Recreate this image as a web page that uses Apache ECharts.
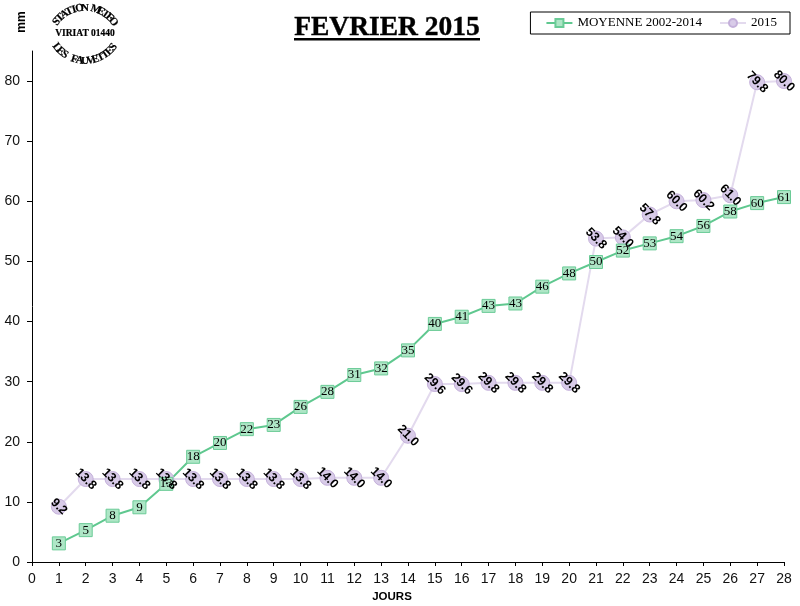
<!DOCTYPE html>
<html><head><meta charset="utf-8">
<style>html,body{margin:0;padding:0;background:#fff}#c{width:800px;height:606px}</style>
<script src="https://cdn.jsdelivr.net/npm/echarts@6/dist/echarts.min.js"></script>
</head><body><div id="c"></div>
<script>
const days = [1,2,3,4,5,6,7,8,9,10,11,12,13,14,15,16,17,18,19,20,21,22,23,24,25,26,27,28];
const moyenne = [3.1,5.3,7.7,9.1,13,17.5,19.8,22.1,22.8,25.8,28.3,31.1,32.2,35.2,39.6,40.8,42.6,43,45.8,48,49.9,51.8,53,54.2,55.9,58.3,59.7,60.7];
const annee2015 = [9.2,13.8,13.8,13.8,13.8,13.8,13.8,13.8,13.8,13.8,14.0,14.0,14.0,21.0,29.6,29.6,29.8,29.8,29.8,29.8,53.8,54.0,57.8,60.0,60.2,61.0,79.8,80.0];
const yTicks = [0,10,20,30,40,50,60,70,80];
const titleText = 'FEVRIER 2015';
const legendNames = ['MOYENNE 2002-2014','2015'];
const logoTop = 'STATION METEO', logoMid = 'VIRIAT 01440', logoBottom = 'LES FAUVETTES';

function arcText(str, cx, cy, r, startDeg, endDeg, flip){
  const out=[]; const n=str.length;
  for(let i=0;i<n;i++){
    const a=(startDeg+(endDeg-startDeg)*i/(n-1))*Math.PI/180;
    const x=cx+r*Math.sin(a), y=cy-r*Math.cos(a);
    out.push({type:'text',x:x,y:y,rotation:flip?-(a-Math.PI):-a,
      style:{text:str[i],font:'bold 11px "Liberation Serif"',fill:'#000',stroke:'#000',lineWidth:0.2,align:'center',verticalAlign:'middle'}});
  }
  return out;
}
const chart=echarts.init(document.getElementById('c'),null,{renderer:'canvas'});
chart.setOption({
  animation:false,
  backgroundColor:'#fff',
  grid:{left:32,right:16,top:51,bottom:44,outerBoundsMode:'none'},
  title:{text:titleText,left:382,top:9,textAlign:'center',
    textStyle:{fontFamily:'Liberation Serif',fontWeight:'bold',fontSize:27.5,color:'#000',textBorderColor:'#000',textBorderWidth:0.4}},
  legend:{data:legendNames,right:10,top:12,padding:[4.5,13,4.5,15],
    borderColor:'#000',borderWidth:1,itemWidth:26,itemHeight:10,itemGap:17,
    textStyle:{fontFamily:'Liberation Serif',fontSize:13,color:'#000'}},
  xAxis:{type:'value',min:0,max:28,interval:1,name:'JOURS',nameLocation:'middle',nameGap:26,
    nameTextStyle:{fontFamily:'Liberation Sans',fontWeight:'bold',fontSize:11.5,color:'#000',padding:[0,32,0,0]},
    axisLine:{lineStyle:{color:'#000',width:1}},axisTick:{length:4,lineStyle:{color:'#000'}},
    axisLabel:{fontFamily:'Liberation Sans',fontSize:14,color:'#111',margin:10},splitLine:{show:false}},
  yAxis:{type:'value',min:0,max:85,
    axisLine:{show:true,lineStyle:{color:'#000',width:1}},
    axisTick:{show:true,length:5,lineStyle:{color:'#000'},customValues:yTicks},
    axisLabel:{fontFamily:'Liberation Sans',fontSize:14,color:'#111',margin:12,customValues:yTicks},splitLine:{show:false}},
  series:[
   {name:legendNames[1],type:'line',z:2,data:days.map((d,i)=>[d,annee2015[i]]),symbol:'circle',symbolSize:15,
    lineStyle:{color:'#E3DAEE',width:2},itemStyle:{color:'#D8CBE8',borderColor:'#C4B0DA',borderWidth:1},
    label:{show:true,position:'inside',rotate:-45,fontFamily:'Liberation Sans',fontWeight:'bold',fontSize:12.5,color:'#000',
      formatter:p=>p.value[1].toFixed(1)}},
   {name:legendNames[0],type:'line',z:2,data:days.map((d,i)=>[d,moyenne[i]]),symbol:'rect',symbolSize:13,
    lineStyle:{color:'#5FC88F',width:2},itemStyle:{color:'#AEE6C6',borderColor:'#6BCB97',borderWidth:1},
    label:{show:true,position:'inside',fontFamily:'Liberation Serif',fontSize:13,color:'#000',
      formatter:p=>p.value[1].toFixed(0)}}
  ],
  graphic:[
    {type:'text',x:22,y:22,rotation:Math.PI/2,style:{text:'mm',font:'bold 12px "Liberation Sans"',fill:'#000',align:'center',verticalAlign:'middle'}},
    {type:'rect',shape:{x:294,y:38,width:186,height:2.5},style:{fill:'#000'}},
    ...arcText(logoTop,85,44,36,-52,52,false),
    {type:'text',x:85,y:34,style:{text:logoMid,font:'bold 9.5px "Liberation Serif"',fill:'#000',stroke:'#000',lineWidth:0.2,align:'center',verticalAlign:'middle'}},
    ...arcText(logoBottom,85,25,36,232,128,true)
  ]
});
</script></body></html>
